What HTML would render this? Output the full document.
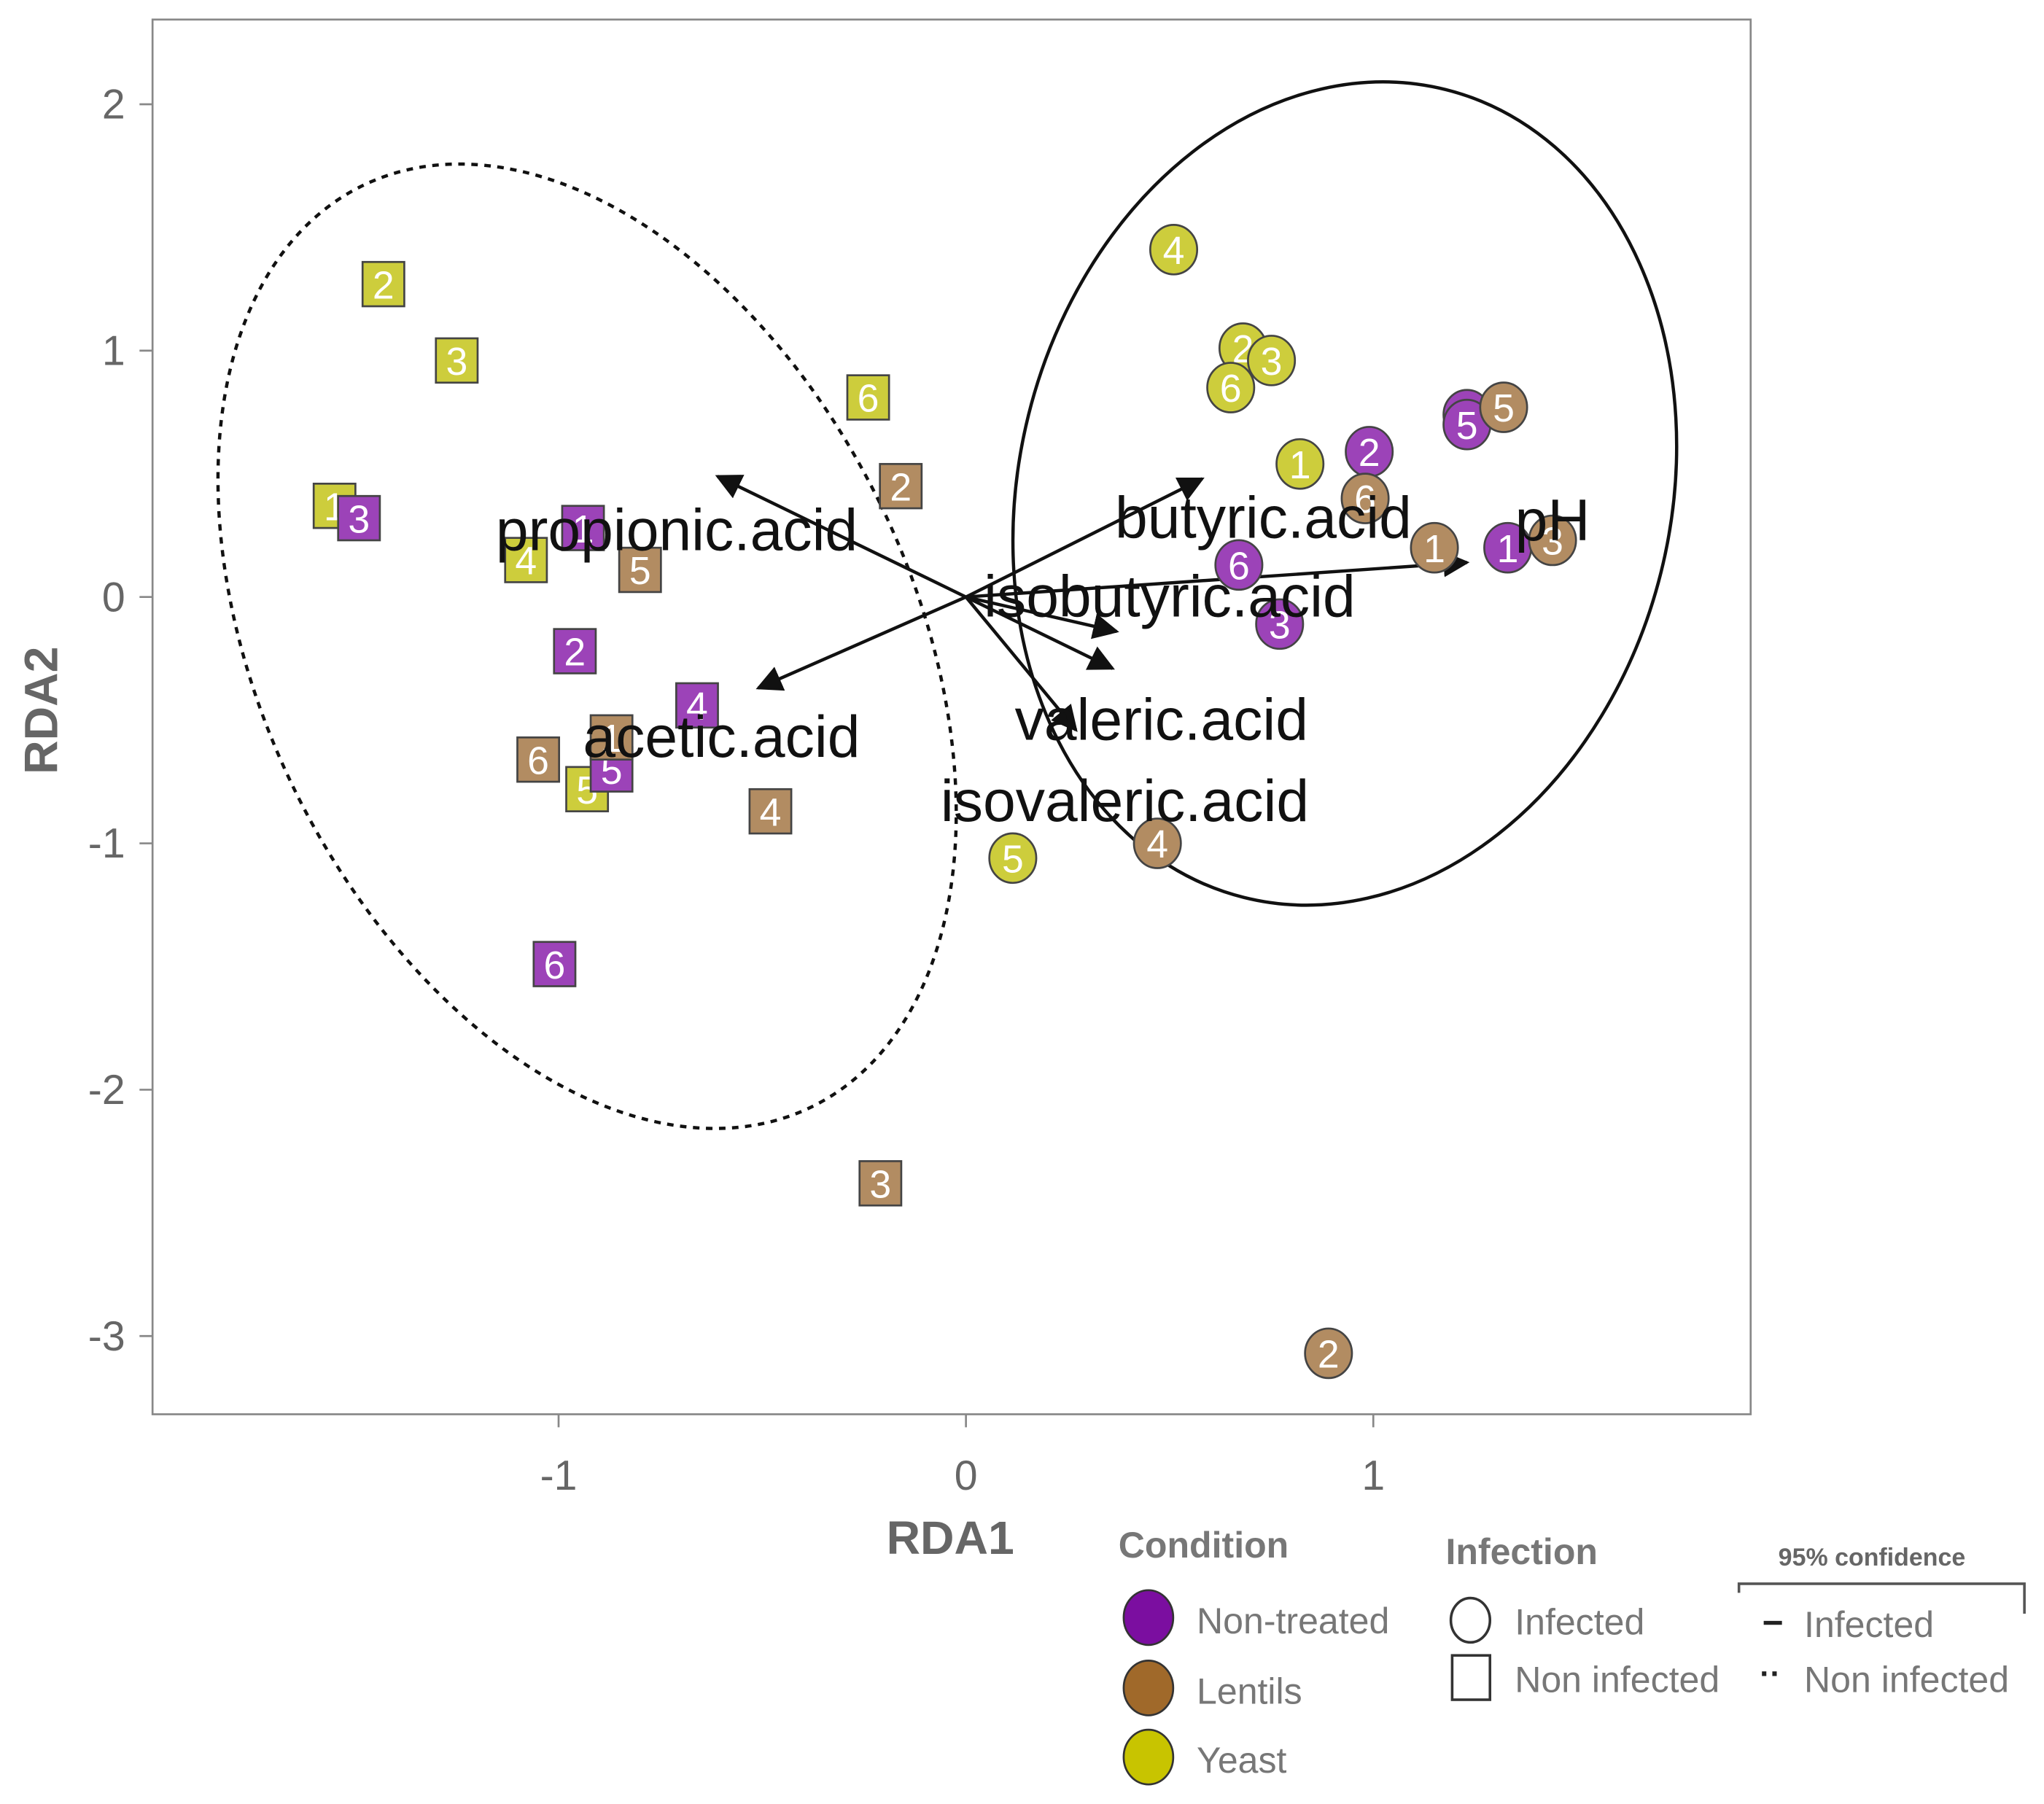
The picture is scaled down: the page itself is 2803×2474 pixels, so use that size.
<!DOCTYPE html>
<html><head><meta charset="utf-8"><style>html,body{margin:0;padding:0;background:#fff}svg{display:block}text{font-family:"Liberation Sans",sans-serif}</style></head>
<body>
<svg id="chart" width="2803" height="2474" viewBox="0 0 1568 1384" xmlns="http://www.w3.org/2000/svg">
<rect x="117" y="15" width="1226" height="1070" fill="#fff" stroke="#888" stroke-width="1.5"/>
<g id="ellipses"></g>
<g id="arrows"></g>
<g id="points"></g>
<g id="labels"></g>
<g id="axes"></g>
<text x="729" y="1192" font-size="36" font-weight="bold" fill="#666" text-anchor="middle">RDA1</text>
<text transform="translate(44,545) rotate(-90)" font-size="36" font-weight="bold" fill="#666" text-anchor="middle">RDA2</text>
<g>
<text x="858" y="1195" font-size="28" font-weight="bold" fill="#777">Condition</text>
<ellipse cx="881" cy="1241" rx="19" ry="21" fill="#7b0ea0" stroke="#333" stroke-width="1.5"/>
<text x="918" y="1253" font-size="28" fill="#777">Non-treated</text>
<ellipse cx="881" cy="1295" rx="19" ry="21" fill="#a0692a" stroke="#333" stroke-width="1.5"/>
<text x="918" y="1307" font-size="28" fill="#777">Lentils</text>
<ellipse cx="881" cy="1348" rx="19" ry="21" fill="#c8c400" stroke="#333" stroke-width="1.5"/>
<text x="918" y="1360" font-size="28" fill="#777">Yeast</text>
</g>
<g>
<text x="1109" y="1200" font-size="28" font-weight="bold" fill="#777">Infection</text>
<ellipse cx="1128" cy="1243" rx="15" ry="17" fill="#fff" stroke="#333" stroke-width="2"/>
<text x="1162" y="1254" font-size="28" fill="#777">Infected</text>
<rect x="1114" y="1270" width="29" height="34" fill="#fff" stroke="#333" stroke-width="2"/>
<text x="1162" y="1298" font-size="28" fill="#777">Non infected</text>
</g>
<g>
<text x="1436" y="1201" font-size="19" font-weight="bold" fill="#666" text-anchor="middle">95% confidence</text>
<path d="M1334 1222 V1215 H1553 V1238" fill="none" stroke="#555" stroke-width="2"/>
<line x1="1353" y1="1245" x2="1367" y2="1245" stroke="#222" stroke-width="3"/>
<text x="1384" y="1256" font-size="28" fill="#777">Infected</text>
<text x="1350" y="1292" font-size="24" font-weight="bold" fill="#222">··</text>
<text x="1384" y="1298" font-size="28" fill="#777">Non infected</text>
</g>
</svg>
<script>
const NS='http://www.w3.org/2000/svg';
const xTicks=[-1,0,1];
const yTicks=[2,1,0,-1,-2,-3];
// infected (circles)
const circCond=['Yeast','Yeast','Yeast','Yeast','Yeast','Yeast','Non-treated','Non-treated','Non-treated','Non-treated','Non-treated','Non-treated','Lentils','Lentils','Lentils','Lentils','Lentils','Lentils'];
const circId=['4','2','3','6','1','5','2','4','5','6','3','1','5','6','1','3','4','2'];
const circX=[0.51,0.68,0.75,0.65,0.82,0.115,0.99,1.23,1.23,0.67,0.77,1.33,1.32,0.98,1.15,1.44,0.47,0.89];
const circY=[1.41,1.01,0.96,0.85,0.54,-1.06,0.59,0.74,0.70,0.13,-0.11,0.20,0.77,0.40,0.20,0.23,-1.00,-3.07];
// non infected (squares)
const sqCond=['Yeast','Yeast','Yeast','Yeast','Yeast','Yeast','Non-treated','Non-treated','Non-treated','Non-treated','Non-treated','Non-treated','Lentils','Lentils','Lentils','Lentils','Lentils','Lentils'];
const sqId=['2','3','6','1','4','5','3','1','2','4','5','6','2','5','1','6','4','3'];
const sqX=[-1.43,-1.25,-0.24,-1.55,-1.08,-0.93,-1.49,-0.94,-0.96,-0.66,-0.87,-1.01,-0.16,-0.80,-0.87,-1.05,-0.48,-0.21];
const sqY=[1.27,0.96,0.81,0.37,0.15,-0.78,0.32,0.28,-0.22,-0.44,-0.70,-1.49,0.45,0.11,-0.57,-0.66,-0.87,-2.38];
// biplot arrows
const arrowNames=['propionic.acid','acetic.acid','butyric.acid','pH','isobutyric.acid','valeric.acid','isovaleric.acid'];
const arrowX=[-0.61,-0.51,0.58,1.23,0.37,0.36,0.27];
const arrowY=[0.49,-0.37,0.48,0.14,-0.14,-0.29,-0.54];
const labelX=[-0.71,-0.6,0.73,1.44,0.50,0.48,0.39];
const labelY=[0.27,-0.57,0.32,0.31,0.0,-0.50,-0.83];
// ellipses: center x,y (data), radii (data units), angle
const ellNames=['ellipse-infected','ellipse-non-infected'];
const ellCX=[0.93,-0.93];
const ellCY=[0.42,-0.2];
const ellRX=[0.80,0.80];
const ellRY=[1.69,2.08];
const ellAng=[14,-26];

const X=v=>741+312.5*v, Y=v=>458-189*v;
const colors={'Non-treated':'#9c43b8','Lentils':'#b28c62','Yeast':'#cdcd3c'};
function mk(tag,attrs,parent){const e=document.createElementNS(NS,tag);for(const k in attrs)e.setAttribute(k,attrs[k]);parent.appendChild(e);return e;}

const gAx=document.getElementById('axes');
xTicks.forEach(t=>{
  const l=mk('line',{x1:X(t),x2:X(t),y1:1085,y2:1095,stroke:'#888','stroke-width':1.5},gAx);
  
  
  const tx=mk('text',{x:X(t),y:1143,'font-size':32,fill:'#666','text-anchor':'middle'},gAx);tx.textContent=t;
  
  
});
yTicks.forEach(t=>{
  const l=mk('line',{x1:107,x2:117,y1:Y(t),y2:Y(t),stroke:'#888','stroke-width':1.5},gAx);
  
  
  const tx=mk('text',{x:96,y:Y(t)+11,'font-size':32,fill:'#666','text-anchor':'end'},gAx);tx.textContent=t;
  
  
});

const gE=document.getElementById('ellipses');
ellNames.forEach((n,i)=>{
  const e=mk('ellipse',{cx:X(ellCX[i]),cy:Y(ellCY[i]),rx:ellRX[i]*312.5,ry:ellRY[i]*189,fill:'none',stroke:'#111','stroke-width':2.5,transform:`rotate(${ellAng[i]} ${X(ellCX[i])} ${Y(ellCY[i])})`},gE);
  if(i===1)e.setAttribute('stroke-dasharray','5 5');
  
  
});

const gA=document.getElementById('arrows');
const gL=document.getElementById('labels');
mk('defs',{},gA).innerHTML='<marker id="ah" viewBox="0 0 10 10" refX="9" refY="5" markerWidth="8" markerHeight="8" orient="auto"><path d="M0,0 L10,5 L0,10 z" fill="#111"/></marker>';

const gP=document.getElementById('points');
sqId.forEach((id,i)=>{
  const g=mk('g',{},gP);
  
  
  mk('rect',{x:X(sqX[i])-16,y:Y(sqY[i])-17,width:32,height:34,fill:colors[sqCond[i]],stroke:'#444','stroke-width':1.5},g);
  const t=mk('text',{x:X(sqX[i]),y:Y(sqY[i])+11,'font-size':30,fill:'#fff','text-anchor':'middle'},g);t.textContent=id;
});
circId.forEach((id,i)=>{
  const g=mk('g',{},gP);
  
  
  mk('ellipse',{cx:X(circX[i]),cy:Y(circY[i]),rx:18,ry:19,fill:colors[circCond[i]],stroke:'#444','stroke-width':1.5},g);
  const t=mk('text',{x:X(circX[i]),y:Y(circY[i])+11,'font-size':30,fill:'#fff','text-anchor':'middle'},g);t.textContent=id;
});

arrowNames.forEach((n,i)=>{
  const l=mk('line',{x1:X(0),y1:Y(0),x2:X(arrowX[i]),y2:Y(arrowY[i]),stroke:'#111','stroke-width':2.5,'marker-end':'url(#ah)'},gA);
  
  
  const t=mk('text',{x:X(labelX[i]),y:Y(labelY[i])+15,'font-size':45,fill:'#111','text-anchor':'middle'},gL);t.textContent=n;
  
  
});
</script>
</body></html>
